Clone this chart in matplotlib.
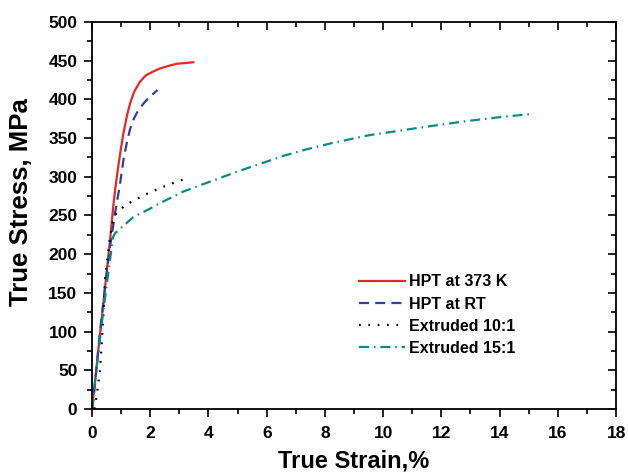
import numpy as np
import matplotlib as mpl
mpl.use('Agg')
import matplotlib.pyplot as plt
from matplotlib.ticker import MultipleLocator

plt.rcParams['font.family'] = 'sans-serif'
plt.rcParams['font.sans-serif'] = ['Liberation Sans', 'DejaVu Sans']
plt.rcParams['font.weight'] = 'bold'

# HPT at 373 K
hpt373_strain = [0.0, 0.30, 0.62, 0.73, 0.80, 0.90, 1.00, 1.08, 1.20, 1.31, 1.45,
                 1.65, 1.85, 2.10, 2.34, 2.60, 2.91, 3.20, 3.48]
hpt373_stress = [0, 105, 218, 262, 285, 313, 338, 356, 379, 395, 410,
                 423, 431, 436, 440, 443, 446, 447, 448]

# HPT at RT
hptrt_strain = [0.0, 0.05, 0.27, 0.45, 0.62, 0.80, 0.96, 1.08, 1.20, 1.31, 1.45,
                1.59, 1.80, 2.00, 2.25]
hptrt_stress = [0, 12, 98, 158, 210, 255, 290, 322, 345, 362, 376,
                386, 396, 404, 412]

# Extruded 10:1
ext10_strain = [0.08, 0.13, 0.27, 0.37, 0.45, 0.62, 0.70, 0.79, 0.90, 1.08, 1.36,
                1.94, 2.57, 3.17]
ext10_stress = [0, 9.5, 48, 106, 169, 222, 240, 250, 256, 261, 268,
                279, 289, 297]

# Extruded 15:1
ext15_strain = [0.0, 0.35, 0.72, 0.79, 1.00, 1.42, 2.00, 2.34, 3.14, 4.00, 5.09,
                6.57, 7.32, 8.29, 9.55, 10.47, 11.16, 12.87, 14.0, 15.05]
ext15_stress = [0, 115, 222, 227, 234, 248, 259, 266, 281, 293, 308,
                327, 335, 344, 354, 359, 363, 372, 377, 381]

fig = plt.figure(figsize=(6.28, 4.73), dpi=100)
ax = fig.add_axes([0.1465, 0.1353, 0.8345, 0.8182])

ax.plot(hpt373_strain, hpt373_stress, color='#e8281e', lw=1.6, label='HPT at 373 K')
ax.plot(hptrt_strain, hptrt_stress, color='#2a3fa8', lw=1.6, ls=(0, (4.5, 2.8)),
        label='HPT at RT')
ax.plot(ext10_strain, ext10_stress, color='black', lw=1.6, ls=(0, (0.8, 3.4)),
        label='Extruded 10:1')
ax.plot(ext15_strain, ext15_stress, color='#0a8a86', lw=1.6,
        ls=(0, (4.5, 2.2, 0.7, 2.2)), label='Extruded 15:1')

ax.set_xlim(0, 18)
ax.set_ylim(0, 500)
ax.xaxis.set_major_locator(MultipleLocator(2))
ax.xaxis.set_minor_locator(MultipleLocator(1))
ax.yaxis.set_major_locator(MultipleLocator(50))
ax.yaxis.set_minor_locator(MultipleLocator(25))

ax.tick_params(which='both', direction='out', top=True, right=True, width=1.2,
               labelsize=12.5)
ax.tick_params(which='major', length=5.5)
ax.tick_params(which='minor', length=3.5)
ax.tick_params(axis='x', pad=6.5)
ax.tick_params(axis='y', pad=5)
for lab in ax.get_xticklabels() + ax.get_yticklabels():
    lab.set_fontweight('bold')
for s in ax.spines.values():
    s.set_linewidth(1.3)

# top/right ticks point inward
for t in ax.xaxis.get_major_ticks() + ax.xaxis.get_minor_ticks():
    t.tick2line.set_marker(mpl.markers.TICKDOWN)
for t in ax.yaxis.get_major_ticks() + ax.yaxis.get_minor_ticks():
    t.tick2line.set_marker(mpl.markers.TICKLEFT)

ax.set_xlabel('True Strain,%', fontsize=17, fontweight='bold', labelpad=6)
ax.set_ylabel('True Stress, MPa', fontsize=18.5, fontweight='bold')
ax.yaxis.set_label_coords(-0.112, 0.535)

ax.legend(loc='upper left', bbox_to_anchor=(0.482, 0.385), frameon=False,
          handlelength=2.9, handletextpad=0.25, labelspacing=0.45,
          prop={'weight': 'bold', 'size': 11.5})

fig.savefig('out.png', dpi=100)
